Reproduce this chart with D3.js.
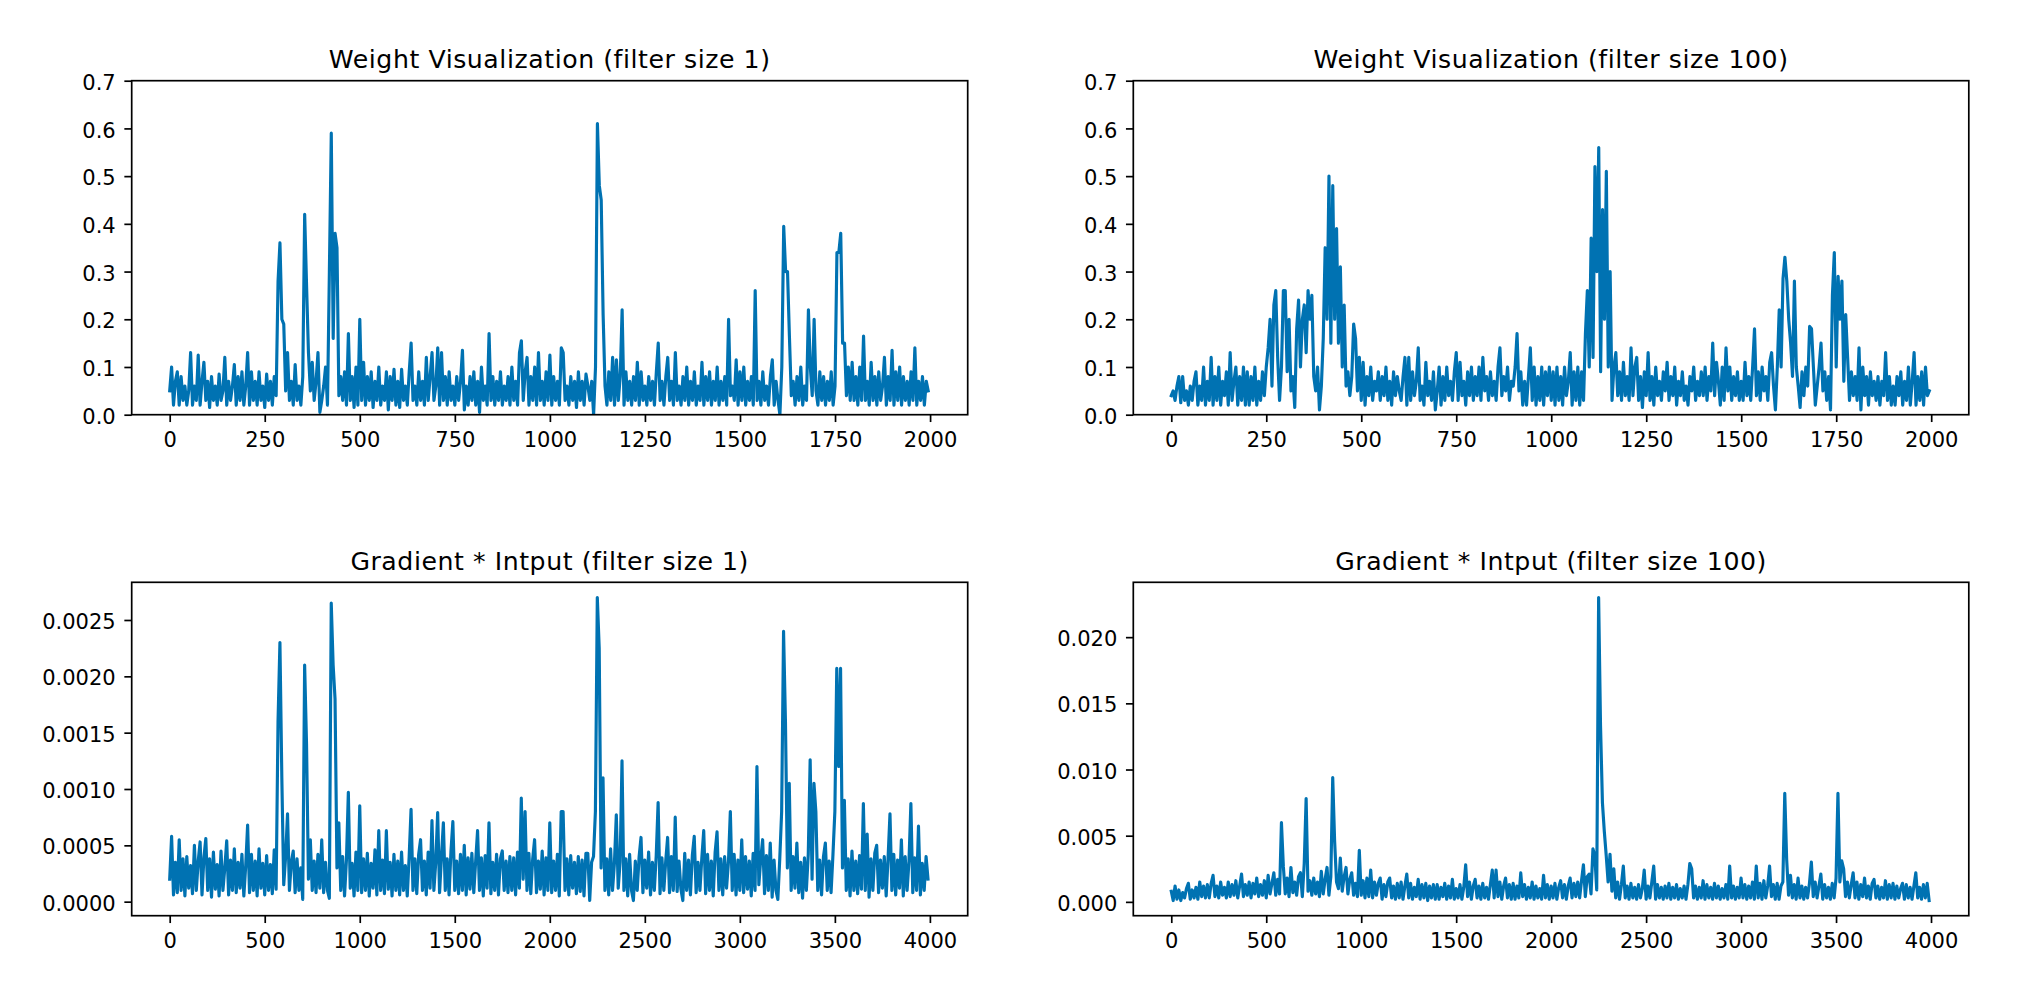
<!DOCTYPE html>
<html><head><meta charset="utf-8">
<script src="https://cdn.jsdelivr.net/npm/d3@7"></script>
<style>
html,body{margin:0;padding:0;background:#fff;}
svg{display:block;}
</style></head><body>
<svg id="chart" width="2040" height="982"></svg>
<script>
// ---------------- data ----------------
const titles = [
  "Weight Visualization (filter size 1)",
  "Weight Visualization (filter size 100)",
  "Gradient * Intput (filter size 1)",
  "Gradient * Intput (filter size 100)"
];
const weightLength = 2000;   // samples in the weight series
const gradLength = 4000;     // samples in the gradient*input series
const weightStep = 5;        // spacing of the values read below
const gradStep = 10;

const weightXTicks = [0,250,500,750,1000,1250,1500,1750,2000];
const weightYTicks = [0,0.1,0.2,0.3,0.4,0.5,0.6,0.7];
const gradXTicks = [0,500,1000,1500,2000,2500,3000,3500,4000];
const grad1YTicks = [0,0.0005,0.001,0.0015,0.002,0.0025];
const grad100YTicks = [0,0.005,0.01,0.015,0.02];

const weightFilter1 = [
0.05,0.1,0.02,0.07,0.09,0.02,0.08,0.03,0.06,0.02,0.05,0.13,0.02,0.06,0.03,0.125,0.02,0.07,0.11,0.03,
0.07,0.015,0.08,0.03,0.06,0.02,0.085,0.03,0.05,0.12,0.02,0.07,0.03,0.06,0.105,0.02,0.08,0.03,0.09,0.02,
0.06,0.13,0.02,0.09,0.03,0.07,0.02,0.09,0.03,0.06,0.015,0.085,0.03,0.07,0.02,0.08,0.04,0.28,0.36,0.2,
0.19,0.05,0.13,0.03,0.07,0.02,0.105,0.03,0.06,0.02,0.08,0.42,0.27,0.13,0.05,0.11,0.03,0.07,0.13,0.005,
0.03,0.06,0.1,0.02,0.3,0.59,0.16,0.38,0.35,0.04,0.08,0.03,0.09,0.02,0.17,0.03,0.08,0.015,0.1,0.02,
0.2,0.03,0.11,0.02,0.08,0.03,0.09,0.015,0.07,0.03,0.1,0.02,0.06,0.03,0.09,0.01,0.08,0.03,0.095,0.02,
0.07,0.015,0.095,0.03,0.06,0.02,0.09,0.15,0.03,0.06,0.02,0.09,0.03,0.07,0.02,0.12,0.03,0.08,0.13,0.03,
0.06,0.14,0.02,0.13,0.03,0.08,0.02,0.09,0.03,0.06,0.02,0.08,0.03,0.07,0.135,0.01,0.06,0.02,0.08,0.03,
0.09,0.02,0.07,0.005,0.1,0.03,0.06,0.02,0.17,0.03,0.08,0.02,0.07,0.03,0.09,0.02,0.06,0.03,0.08,0.02,
0.1,0.03,0.07,0.02,0.13,0.155,0.03,0.09,0.12,0.02,0.08,0.03,0.1,0.02,0.13,0.03,0.07,0.02,0.09,0.03,
0.125,0.02,0.08,0.03,0.07,0.02,0.14,0.13,0.03,0.06,0.02,0.08,0.03,0.07,0.015,0.09,0.03,0.07,0.02,0.085,
0.06,0.03,0.07,0.0,0.1,0.61,0.48,0.45,0.21,0.06,0.02,0.09,0.03,0.12,0.02,0.115,0.03,0.08,0.22,0.02,
0.09,0.03,0.07,0.02,0.08,0.03,0.11,0.02,0.09,0.03,0.06,0.02,0.08,0.03,0.07,0.02,0.09,0.15,0.03,0.07,
0.02,0.08,0.12,0.03,0.07,0.02,0.13,0.03,0.06,0.02,0.08,0.03,0.1,0.02,0.07,0.03,0.09,0.02,0.06,0.03,
0.11,0.02,0.08,0.03,0.09,0.02,0.07,0.03,0.1,0.02,0.07,0.03,0.08,0.02,0.2,0.04,0.06,0.03,0.115,0.02,
0.09,0.03,0.1,0.02,0.07,0.03,0.08,0.02,0.26,0.03,0.07,0.02,0.09,0.03,0.06,0.02,0.08,0.115,0.02,0.07,
0.03,0.0,0.1,0.395,0.3,0.3,0.165,0.04,0.07,0.02,0.08,0.03,0.1,0.02,0.06,0.03,0.22,0.1,0.04,0.2,
0.05,0.02,0.09,0.03,0.08,0.02,0.07,0.03,0.09,0.02,0.06,0.34,0.34,0.38,0.15,0.15,0.04,0.1,0.03,0.11,
0.03,0.08,0.02,0.1,0.03,0.165,0.03,0.07,0.02,0.11,0.03,0.08,0.02,0.09,0.03,0.06,0.12,0.02,0.08,0.03,
0.135,0.02,0.09,0.03,0.1,0.02,0.08,0.03,0.07,0.02,0.09,0.03,0.14,0.02,0.07,0.03,0.08,0.02,0.07,0.05
];

const weightFilter100 = [
0.04,0.05,0.03,0.06,0.08,0.025,0.08,0.03,0.05,0.02,0.06,0.03,0.07,0.09,0.02,0.06,0.03,0.1,0.02,0.07,
0.03,0.12,0.02,0.08,0.03,0.1,0.02,0.07,0.04,0.09,0.02,0.13,0.03,0.07,0.1,0.02,0.08,0.03,0.1,0.02,
0.09,0.02,0.08,0.03,0.1,0.02,0.07,0.03,0.09,0.04,0.1,0.14,0.2,0.06,0.23,0.26,0.12,0.03,0.1,0.26,
0.26,0.09,0.2,0.05,0.08,0.015,0.18,0.24,0.1,0.2,0.23,0.13,0.26,0.2,0.25,0.08,0.05,0.1,0.01,0.06,
0.16,0.35,0.2,0.5,0.15,0.48,0.2,0.39,0.15,0.31,0.1,0.23,0.06,0.09,0.04,0.08,0.19,0.16,0.05,0.12,
0.03,0.11,0.02,0.08,0.04,0.1,0.03,0.07,0.05,0.09,0.03,0.08,0.04,0.1,0.03,0.07,0.02,0.09,0.04,0.08,
0.05,0.03,0.08,0.12,0.02,0.12,0.03,0.09,0.04,0.07,0.14,0.03,0.06,0.02,0.11,0.04,0.07,0.03,0.09,0.01,
0.05,0.1,0.02,0.08,0.03,0.1,0.04,0.07,0.03,0.09,0.13,0.03,0.11,0.04,0.07,0.02,0.09,0.04,0.1,0.03,
0.08,0.04,0.1,0.03,0.12,0.05,0.08,0.03,0.09,0.04,0.07,0.03,0.1,0.14,0.04,0.08,0.05,0.1,0.03,0.07,
0.06,0.1,0.17,0.05,0.09,0.02,0.07,0.02,0.08,0.14,0.03,0.1,0.02,0.08,0.03,0.1,0.02,0.09,0.04,0.1,
0.03,0.09,0.02,0.1,0.03,0.08,0.02,0.1,0.04,0.07,0.13,0.02,0.09,0.03,0.1,0.02,0.09,0.03,0.17,0.26,
0.1,0.37,0.12,0.52,0.3,0.56,0.09,0.43,0.2,0.51,0.1,0.3,0.03,0.1,0.13,0.04,0.09,0.03,0.11,0.04,
0.08,0.03,0.14,0.04,0.1,0.12,0.03,0.08,0.015,0.09,0.04,0.13,0.03,0.08,0.02,0.1,0.04,0.07,0.03,0.09,
0.05,0.11,0.03,0.08,0.04,0.1,0.02,0.07,0.04,0.09,0.03,0.06,0.02,0.08,0.05,0.1,0.03,0.07,0.04,0.09,
0.04,0.1,0.03,0.08,0.05,0.15,0.04,0.11,0.07,0.02,0.1,0.03,0.14,0.05,0.1,0.03,0.08,0.04,0.09,0.03,
0.07,0.03,0.11,0.04,0.08,0.03,0.1,0.18,0.04,0.09,0.03,0.1,0.05,0.08,0.03,0.11,0.13,0.06,0.01,0.1,
0.22,0.1,0.285,0.33,0.28,0.2,0.15,0.08,0.28,0.1,0.06,0.015,0.09,0.04,0.1,0.06,0.185,0.18,0.1,0.02,
0.06,0.1,0.15,0.05,0.09,0.03,0.08,0.01,0.25,0.34,0.1,0.29,0.2,0.28,0.07,0.21,0.12,0.03,0.09,0.04,
0.08,0.03,0.14,0.01,0.1,0.04,0.08,0.02,0.09,0.04,0.07,0.03,0.08,0.02,0.07,0.04,0.13,0.03,0.08,0.02,
0.06,0.02,0.08,0.04,0.09,0.02,0.07,0.03,0.1,0.02,0.07,0.13,0.02,0.08,0.03,0.09,0.02,0.1,0.04,0.05
];

const gradFilter1 = [
2e-4,5.8e-4,0.6e-4,3.5e-4,0.8e-4,5.5e-4,1e-4,3.8e-4,0.5e-4,4e-4,1.2e-4,3.2e-4,0.7e-4,5e-4,1e-4,3.6e-4,5.3e-4,0.6e-4,3.9e-4,5.6e-4,
1e-4,3.8e-4,0.4e-4,4.4e-4,1.1e-4,3.3e-4,0.5e-4,4.5e-4,1e-4,3e-4,5.4e-4,0.6e-4,3.7e-4,1e-4,4.7e-4,0.8e-4,3.5e-4,1.2e-4,4.2e-4,0.5e-4,
3.2e-4,6.8e-4,0.8e-4,4.2e-4,1e-4,3.6e-4,0.5e-4,4.7e-4,1.2e-4,3.4e-4,0.6e-4,4.1e-4,1e-4,3.3e-4,0.7e-4,4.6e-4,1.1e-4,16e-4,23e-4,11e-4,
1.5e-4,4e-4,7.8e-4,1e-4,3.5e-4,4.5e-4,0.8e-4,3.8e-4,1e-4,3e-4,0.2e-4,21e-4,14e-4,2e-4,5.5e-4,1e-4,3.6e-4,0.8e-4,4.2e-4,1.2e-4,
5.5e-4,0.8e-4,3.5e-4,1e-4,0.3e-4,26.5e-4,21e-4,18e-4,3e-4,7e-4,1e-4,4e-4,0.5e-4,3.7e-4,9.7e-4,1.2e-4,3.4e-4,0.5e-4,4.4e-4,1e-4,
8.5e-4,0.8e-4,3.8e-4,1e-4,4.3e-4,0.5e-4,3.4e-4,1.2e-4,4.6e-4,0.6e-4,6.3e-4,1e-4,3.7e-4,0.7e-4,6.3e-4,1.1e-4,3.5e-4,0.5e-4,4.2e-4,1e-4,
3.6e-4,0.6e-4,4.4e-4,1e-4,3.2e-4,0.5e-4,4e-4,8.2e-4,1e-4,3.8e-4,0.7e-4,4.2e-4,5.5e-4,1e-4,3.6e-4,0.6e-4,4.4e-4,1.2e-4,7.2e-4,1e-4,
3.5e-4,7.9e-4,0.8e-4,4e-4,7e-4,1e-4,3.8e-4,0.6e-4,4.5e-4,7.1e-4,1e-4,3.6e-4,0.7e-4,4.2e-4,1e-4,5e-4,0.6e-4,3.9e-4,1.1e-4,4.3e-4,
0.8e-4,3.6e-4,6.3e-4,1e-4,3.9e-4,0.5e-4,4.1e-4,1.2e-4,7e-4,0.7e-4,3.5e-4,1e-4,4.2e-4,0.6e-4,3.8e-4,4.5e-4,1e-4,3.6e-4,0.8e-4,4e-4,
1e-4,3.9e-4,0.6e-4,4.4e-4,1.2e-4,9.2e-4,2e-4,8e-4,1e-4,4.3e-4,0.7e-4,3.8e-4,5.5e-4,0.8e-4,3.6e-4,1.1e-4,4.5e-4,0.6e-4,3.9e-4,1e-4,
7e-4,0.8e-4,3.6e-4,1e-4,4.2e-4,0.5e-4,8e-4,8e-4,1e-4,3.8e-4,0.6e-4,4.1e-4,1.2e-4,3.5e-4,0.7e-4,4e-4,0.9e-4,3.7e-4,0.5e-4,4.3e-4,
4.3e-4,0.1e-4,3.5e-4,4e-4,8e-4,27e-4,22.5e-4,3e-4,11e-4,1e-4,3.8e-4,0.6e-4,4.7e-4,1e-4,3.4e-4,7.7e-4,1.2e-4,3.5e-4,12.5e-4,1e-4,
3.8e-4,0.5e-4,4.2e-4,1e-4,0.1e-4,3.6e-4,1e-4,4e-4,5.7e-4,0.8e-4,3.7e-4,1.2e-4,4.4e-4,0.6e-4,3.5e-4,1e-4,4.1e-4,8.8e-4,0.7e-4,3.9e-4,
1e-4,3.6e-4,5.7e-4,0.8e-4,4e-4,1e-4,7.5e-4,0.9e-4,3.6e-4,1.1e-4,0.1e-4,4.3e-4,1e-4,3.7e-4,0.6e-4,4.1e-4,5.8e-4,0.8e-4,3.5e-4,1e-4,
3.9e-4,6.3e-4,0.7e-4,4.2e-4,1e-4,3.6e-4,0.5e-4,4.4e-4,6.2e-4,1e-4,3.8e-4,0.6e-4,4e-4,1.2e-4,3.5e-4,8e-4,1e-4,4.2e-4,0.6e-4,3.7e-4,
1e-4,5.5e-4,0.8e-4,4e-4,1.1e-4,3.6e-4,0.5e-4,4.3e-4,1e-4,12e-4,1.5e-4,3.8e-4,5.5e-4,0.7e-4,4.1e-4,1e-4,5.2e-4,0.4e-4,3.7e-4,1e-4,
0.2e-4,3.8e-4,8e-4,24e-4,16e-4,3e-4,10.5e-4,1e-4,4e-4,1.2e-4,5.2e-4,0.8e-4,3.5e-4,0.3e-4,3.9e-4,1e-4,4.2e-4,12.6e-4,2e-4,10.5e-4,
8e-4,1e-4,3.7e-4,0.6e-4,4e-4,5.2e-4,1e-4,3.6e-4,0.8e-4,4.2e-4,8e-4,20.7e-4,12e-4,20.7e-4,3e-4,9e-4,1e-4,3.8e-4,0.5e-4,4.5e-4,
1e-4,3.6e-4,0.7e-4,4.1e-4,1.1e-4,8.7e-4,1e-4,6e-4,0.4e-4,3.8e-4,1e-4,4.3e-4,5e-4,0.8e-4,3.7e-4,1.2e-4,4e-4,0.5e-4,3.9e-4,7.8e-4,
1e-4,4.2e-4,0.6e-4,3.7e-4,1.2e-4,5.5e-4,0.5e-4,4e-4,1e-4,3.6e-4,8.7e-4,0.8e-4,3.9e-4,1e-4,6.7e-4,0.6e-4,3.4e-4,1e-4,4e-4,2e-4
];

const gradFilter100 = [
0.8e-3,0.1e-3,1.2e-3,0.2e-3,0.9e-3,0.1e-3,0.7e-3,0.3e-3,1e-3,1.4e-3,0.2e-3,0.9e-3,0.3e-3,1.1e-3,0.2e-3,1.5e-3,0.4e-3,1.2e-3,0.3e-3,1.3e-3,
0.3e-3,1.4e-3,2e-3,0.4e-3,1.2e-3,0.3e-3,1.5e-3,0.5e-3,1.1e-3,0.3e-3,1.5e-3,0.4e-3,1.3e-3,0.5e-3,1.6e-3,0.3e-3,1.2e-3,2.1e-3,0.4e-3,1.3e-3,
0.5e-3,1.5e-3,0.3e-3,1.4e-3,0.6e-3,1.8e-3,0.4e-3,1.3e-3,0.5e-3,1.6e-3,0.3e-3,2e-3,0.6e-3,1.4e-3,2.2e-3,0.5e-3,1.7e-3,0.6e-3,6e-3,2.7e-3,
0.6e-3,1.8e-3,0.4e-3,2.6e-3,0.7e-3,1.5e-3,0.5e-3,1.9e-3,2.2e-3,0.4e-3,2.9e-3,7.8e-3,0.8e-3,1.6e-3,0.5e-3,1.8e-3,0.6e-3,1.5e-3,0.4e-3,2.3e-3,
0.6e-3,1.7e-3,2.6e-3,0.5e-3,1.9e-3,9.4e-3,4.6e-3,1.5e-3,1e-3,3.3e-3,0.8e-3,1.9e-3,2.6e-3,0.6e-3,1.7e-3,2.2e-3,0.5e-3,1.4e-3,0.4e-3,3.9e-3,
0.5e-3,1.6e-3,0.3e-3,1.8e-3,0.4e-3,2.4e-3,0.3e-3,1.5e-3,0.5e-3,1.4e-3,1.8e-3,0.2e-3,1.3e-3,0.4e-3,1.5e-3,1.8e-3,0.3e-3,1.2e-3,0.2e-3,1.4e-3,
0.3e-3,1.5e-3,0.2e-3,1.2e-3,2.1e-3,0.3e-3,1.4e-3,0.2e-3,1.1e-3,0.4e-3,1.7e-3,0.2e-3,1.3e-3,0.3e-3,1.4e-3,0.1e-3,1.2e-3,0.3e-3,1.3e-3,0.2e-3,
1.3e-3,0.2e-3,1.1e-3,0.4e-3,1.4e-3,0.2e-3,1.2e-3,0.3e-3,1.7e-3,0.2e-3,1e-3,0.3e-3,1.3e-3,0.2e-3,1.1e-3,2.8e-3,0.4e-3,1.5e-3,0.2e-3,1.2e-3,
1.7e-3,0.3e-3,1.2e-3,0.2e-3,1.4e-3,0.3e-3,1.1e-3,0.2e-3,1.3e-3,2.4e-3,0.3e-3,2.4e-3,0.4e-3,1.5e-3,0.2e-3,1.2e-3,1.8e-3,0.3e-3,1.3e-3,0.2e-3,
1.4e-3,0.2e-3,1.2e-3,0.3e-3,2.2e-3,0.4e-3,1.3e-3,0.2e-3,1.1e-3,0.3e-3,1.5e-3,0.2e-3,1.2e-3,0.3e-3,1e-3,0.2e-3,2e-3,0.3e-3,1.3e-3,0.2e-3,
1.2e-3,0.3e-3,1.4e-3,0.2e-3,1.1e-3,1.6e-3,0.3e-3,1.3e-3,0.2e-3,1.2e-3,1.8e-3,0.3e-3,1.4e-3,0.4e-3,1.5e-3,0.3e-3,1.6e-3,2.8e-3,0.4e-3,1.9e-3,
2.1e-3,0.6e-3,4e-3,3.5e-3,0.9e-3,23e-3,13.3e-3,7.5e-3,5.3e-3,3.5e-3,1.5e-3,3.6e-3,0.8e-3,2.5e-3,0.3e-3,1.5e-3,0.2e-3,1.3e-3,2.7e-3,0.3e-3,
1.2e-3,0.2e-3,1.4e-3,0.3e-3,1.1e-3,0.2e-3,1.3e-3,0.3e-3,1e-3,2.4e-3,0.2e-3,1.2e-3,0.3e-3,1.5e-3,2.7e-3,0.2e-3,1.3e-3,0.3e-3,1.1e-3,0.2e-3,
1.2e-3,0.3e-3,1.4e-3,0.2e-3,1.1e-3,0.3e-3,1.3e-3,0.2e-3,1e-3,0.3e-3,1.2e-3,0.2e-3,1.3e-3,2.9e-3,2.5e-3,0.3e-3,1.2e-3,0.2e-3,1.1e-3,0.3e-3,
1.6e-3,0.2e-3,1.3e-3,0.3e-3,1.1e-3,0.2e-3,1.4e-3,0.3e-3,1.2e-3,0.2e-3,1e-3,0.3e-3,1.3e-3,0.2e-3,2.7e-3,0.3e-3,1.2e-3,0.2e-3,1.1e-3,0.3e-3,
1.8e-3,0.3e-3,1.3e-3,0.2e-3,1.2e-3,0.3e-3,1.5e-3,0.2e-3,2.7e-3,0.3e-3,1.4e-3,0.2e-3,1.6e-3,0.3e-3,1.2e-3,2.7e-3,0.4e-3,1.3e-3,0.2e-3,1.4e-3,
0.2e-3,1.2e-3,1.5e-3,8.2e-3,3.2e-3,0.5e-3,2e-3,0.3e-3,1.3e-3,0.2e-3,1.8e-3,0.3e-3,1.2e-3,0.2e-3,1.1e-3,0.3e-3,1.4e-3,3e-3,0.4e-3,1.5e-3,
0.3e-3,1.2e-3,2.1e-3,0.2e-3,1.3e-3,0.3e-3,1.1e-3,0.2e-3,1.4e-3,0.3e-3,1.8e-3,8.2e-3,1.5e-3,3.1e-3,2.5e-3,0.4e-3,1.5e-3,0.3e-3,1.3e-3,2.2e-3,
0.3e-3,1.5e-3,0.2e-3,1.3e-3,0.4e-3,1.8e-3,0.3e-3,1.2e-3,0.2e-3,1.4e-3,1.7e-3,0.3e-3,1.2e-3,0.2e-3,1.1e-3,0.3e-3,1.6e-3,0.2e-3,1.3e-3,0.3e-3,
1.4e-3,0.2e-3,1.2e-3,0.3e-3,1e-3,1.4e-3,0.2e-3,1.3e-3,0.3e-3,1.1e-3,0.2e-3,1.2e-3,2.2e-3,0.3e-3,1.1e-3,0.2e-3,1.3e-3,0.3e-3,1.4e-3,0.1e-3
];

// ---------------- drawing ----------------
const svg = d3.select('#chart');
const FONT = '"DejaVu Sans", "Liberation Sans", sans-serif';
const lineColor = '#0072b2';
const tickFont = 21, titleFont = 25.2;
const tickLen = 7.35, spineW = 1.7, lineW = 3.15;

const cols = [{left:131.7, right:967.7},{left:1133.3, right:1968.8}];
const rows = [{top:80.7, bottom:414.7},{top:582.3, bottom:915.7}];

const panels = [
  {title:titles[0], values:weightFilter1, step:weightStep, length:weightLength, xTicks:weightXTicks, yTicks:weightYTicks, yFixed:[0,0.7], fmt:d3.format('.1f'), col:0, row:0},
  {title:titles[1], values:weightFilter100, step:weightStep, length:weightLength, xTicks:weightXTicks, yTicks:weightYTicks, yFixed:[0,0.7], fmt:d3.format('.1f'), col:1, row:0},
  {title:titles[2], values:gradFilter1, step:gradStep, length:gradLength, xTicks:gradXTicks, yTicks:grad1YTicks, yFixed:null, fmt:d3.format('.4f'), col:0, row:1},
  {title:titles[3], values:gradFilter100, step:gradStep, length:gradLength, xTicks:gradXTicks, yTicks:grad100YTicks, yFixed:null, fmt:d3.format('.3f'), col:1, row:1}
];

panels.forEach((p, k) => {
  const {left, right} = cols[p.col];
  const {top, bottom} = rows[p.row];
  const span = p.length - 1;
  const x = d3.scaleLinear().domain([-0.05*span, span*1.05]).range([left, right]);
  let yDom = p.yFixed;
  if (!yDom) {
    const [mn, mx] = d3.extent(p.values);
    const pad = (mx - mn) * 0.05;
    yDom = [mn - pad, mx + pad];
  }
  const y = d3.scaleLinear().domain(yDom).range([bottom, top]);
  const g = svg.append('g');

  const clipId = 'clip' + k;
  svg.append('clipPath').attr('id', clipId).append('rect')
    .attr('x', left).attr('y', top).attr('width', right-left).attr('height', bottom-top);

  const line = d3.line().x((d,i) => x(i*p.step)).y(d => y(d));
  g.append('path').datum(p.values)
    .attr('clip-path', `url(#${clipId})`)
    .attr('d', line)
    .attr('fill', 'none')
    .attr('stroke', lineColor)
    .attr('stroke-width', lineW)
    .attr('stroke-linejoin', 'round')
    .attr('stroke-linecap', 'square');

  // x axis
  const xa = g.append('g').attr('transform', `translate(0,${bottom})`)
    .call(d3.axisBottom(x).tickValues(p.xTicks).tickFormat(d3.format('d'))
      .tickSize(tickLen).tickSizeOuter(0).tickPadding(9.7));
  // y axis
  const ya = g.append('g').attr('transform', `translate(${left},0)`)
    .call(d3.axisLeft(y).tickValues(p.yTicks).tickFormat(p.fmt)
      .tickSize(tickLen).tickSizeOuter(0).tickPadding(8.65));
  [xa, ya].forEach(a => {
    a.select('.domain').remove();
    a.attr('font-family', FONT).attr('font-size', tickFont);
    a.selectAll('.tick line').attr('stroke', '#000').attr('stroke-width', spineW);
    a.selectAll('.tick text').attr('fill', '#000');
  });
  ya.selectAll('.tick text').attr('dy', '0.41em');

  // spines
  g.append('rect').attr('x', left).attr('y', top)
    .attr('width', right-left).attr('height', bottom-top)
    .attr('fill', 'none').attr('stroke', '#000').attr('stroke-width', spineW);

  // title
  g.append('text').attr('x', (left+right)/2).attr('y', top - 12.6)
    .attr('text-anchor', 'middle')
    .attr('font-family', FONT).attr('font-size', titleFont).attr('fill', '#000')
    .attr('letter-spacing', '0.55px')
    .text(p.title);
});
</script>
</body></html>
